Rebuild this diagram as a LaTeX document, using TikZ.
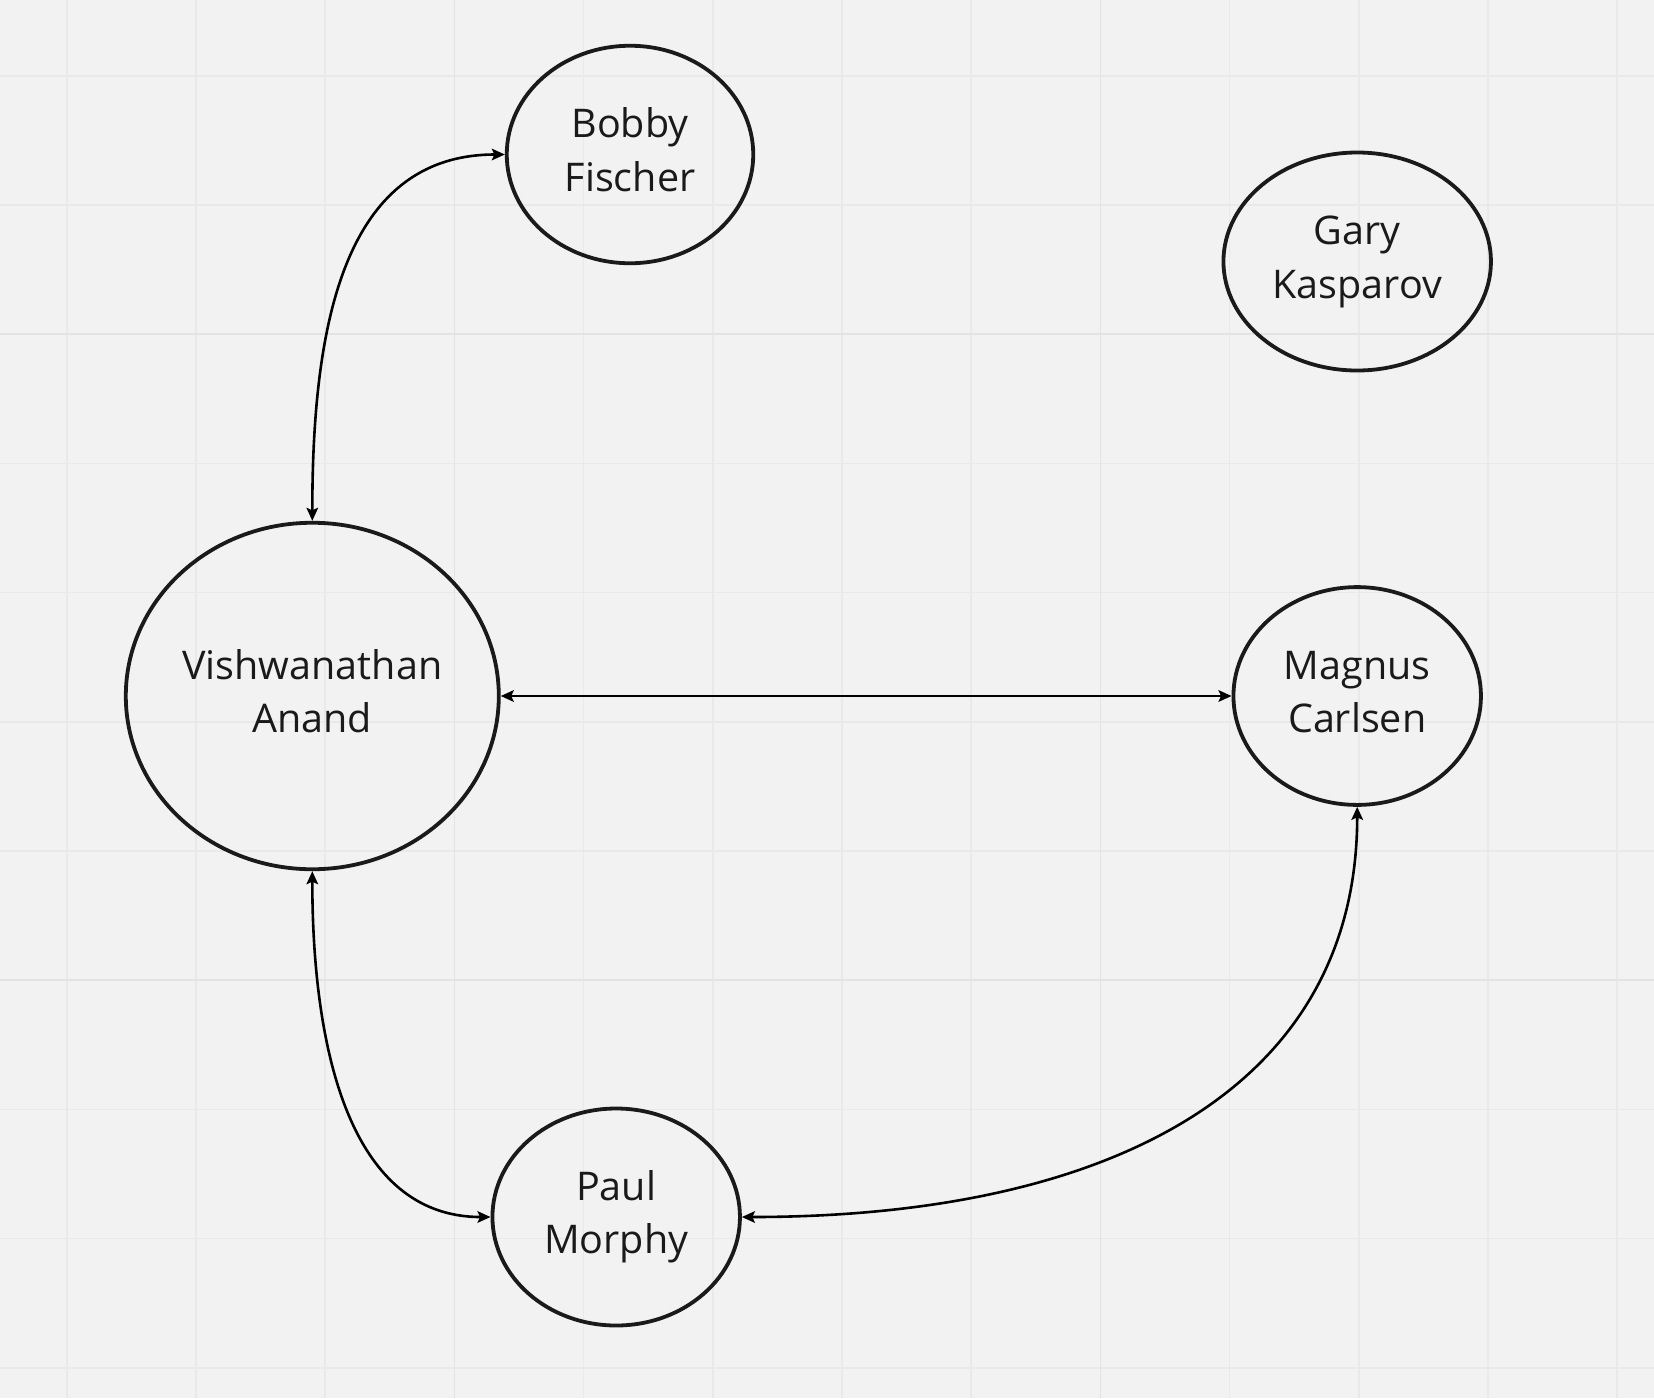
\documentclass[tikz,border=0pt]{standalone}
\usepackage{fontspec}
\setmainfont{Open Sans}
\usetikzlibrary{shapes.geometric,arrows.meta,calc}
\definecolor{bg}{HTML}{F2F2F2}
\definecolor{gridminor}{HTML}{E9E9E9}
\definecolor{gridmajor}{HTML}{E3E3E3}
\definecolor{ink}{HTML}{1A1A1A}
\newcommand\mytopstrut{\rule{0pt}{30pt}}
\newcommand\mybotstrut{\rule[-10pt]{0pt}{10pt}}
\begin{document}
\begin{tikzpicture}[x=1pt,y=-1pt,
  person/.style={ellipse, draw=ink, line width=3.8pt, inner sep=0pt, text=ink,
    font=\fontsize{39.5}{53.3}\selectfont, align=center},
  conn/.style={line width=2.6pt, draw=black, {Stealth[length=13pt,width=11.5pt,inset=2.5pt]}-{Stealth[length=13pt,width=11.5pt,inset=2.5pt]}},
  gridline/.style={line width=1.6pt}
]
\fill[bg] (0,0) rectangle (1654,1398);
\useasboundingbox (0,0) rectangle (1654,1398);
% grid
\foreach \i in {0,...,12} {
  \draw[gridline, draw=gridminor] ({66.7+\i*129.2},0) -- ({66.7+\i*129.2},1398);
}
\foreach \j in {0,...,10} {
  \draw[gridline, draw=gridminor] (0,{75.7+\j*129.2}) -- (1654,{75.7+\j*129.2});
}
\foreach \i in {3,8} {
  \draw[gridline, draw=gridmajor] ({66.7+\i*129.2},0) -- ({66.7+\i*129.2},1398);
}
\foreach \j in {2,7} {
  \draw[gridline, draw=gridmajor] (0,{75.7+\j*129.2}) -- (1654,{75.7+\j*129.2});
}
% nodes
\node[person, minimum width=246.5pt, minimum height=217.5pt] (bobby) at (630,154.5) {\mytopstrut Bobby\\Fischer\mybotstrut};
\node[person, minimum width=267.5pt, minimum height=218pt] (gary) at (1357.2,261.5) {\mytopstrut Gary\\Kasparov\mybotstrut};
\node[person, minimum width=373pt, minimum height=346.5pt] (anand) at (312.3,696) {\mytopstrut Vishwanathan\\Anand\mybotstrut};
\node[person, minimum width=247.5pt, minimum height=217.8pt] (magnus) at (1357.2,696) {\mytopstrut Magnus\\Carlsen\mybotstrut};
\node[person, minimum width=247.5pt, minimum height=217pt] (paul) at (616.2,1217) {\mytopstrut Paul\\Morphy\mybotstrut};
% connectors
\draw[conn] (anand.north) .. controls ($(anand.north)+(0,-189)$) and ($(bobby.west)+(-164,0)$) .. (bobby.west);
\draw[conn] (anand.south) .. controls ($(anand.south)+(0,180)$) and ($(paul.west)+(-140,0)$) .. (paul.west);
\draw[conn] (magnus.south) .. controls ($(magnus.south)+(0,282)$) and ($(paul.east)+(368,0)$) .. (paul.east);
\draw[conn] (anand.east) -- (magnus.west);
\end{tikzpicture}
\end{document}
